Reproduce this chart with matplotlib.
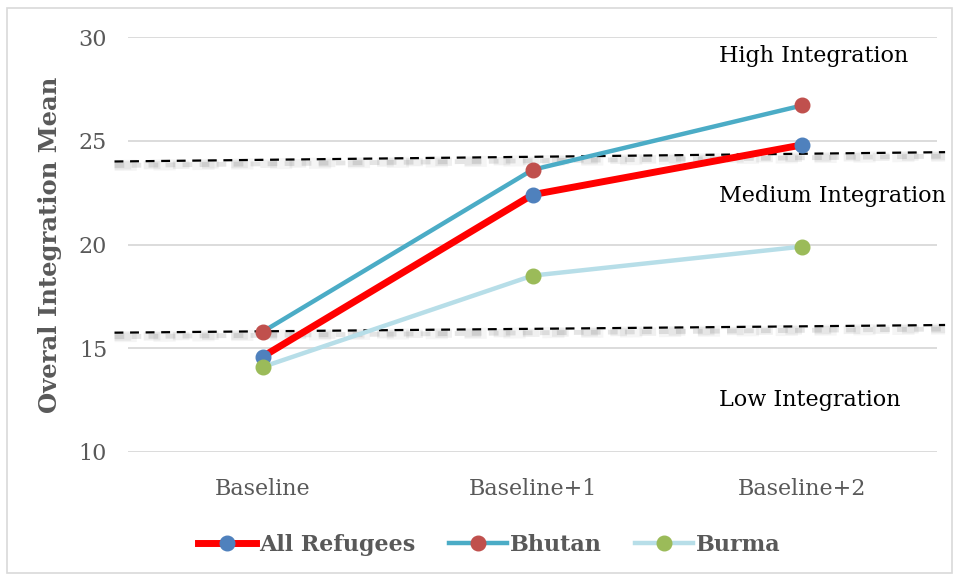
import matplotlib.pyplot as plt
import matplotlib.transforms as mtransforms
from matplotlib.patches import Rectangle

periods = ["Baseline", "Baseline+1", "Baseline+2"]
all_refugees = [14.6, 22.4, 24.8]
bhutan = [15.8, 23.6, 26.7]
burma = [14.1, 18.5, 19.9]

# cut-off lines between integration levels (start / end values)
high_cut = [24.0, 24.45]
low_cut = [15.75, 16.12]
cut_x = [-0.55, 2.53]

levels = ["High Integration", "Medium Integration", "Low Integration"]
level_y = [29.1, 22.35, 12.5]

serif = ["DejaVu Serif"]
grey_text = "#595959"

fig = plt.figure(figsize=(9.56, 5.78), dpi=100)
fig.patches.append(Rectangle((7 / 956, 5 / 578), 945 / 956, 565 / 578,
                             transform=fig.transFigure, fill=False,
                             edgecolor="#d9d9d9", linewidth=1.2))
ax = fig.add_axes([128 / 956, 1 - 452 / 578, 809 / 956, 415 / 578])

x = list(range(len(periods)))

# dashed cut-off lines with a soft shadow underneath
for cut in (high_cut, low_cut):
    for off, lw, a in [(-4, 8, 0.04), (-4, 6, 0.06), (-4, 3.5, 0.1)]:
        shift = mtransforms.ScaledTranslation(0, off / 100, fig.dpi_scale_trans)
        ax.plot(cut_x, cut, color="black", lw=lw, alpha=a, ls=(0, (2, 1.5)),
                transform=ax.transData + shift, clip_on=False, zorder=1,
                solid_capstyle="butt")
    ax.plot(cut_x, cut, color="black", lw=1.6, ls=(0, (4, 3)),
            clip_on=False, zorder=2)

ax.plot(x, all_refugees, color="#ff0000", lw=5, marker="o", ms=10.5,
        mfc="#4f81bd", mec="#4f81bd", label="All Refugees", zorder=3)
ax.plot(x, bhutan, color="#4bacc6", lw=3.2, marker="o", ms=10.5,
        mfc="#c0504d", mec="#c0504d", label="Bhutan", zorder=4)
ax.plot(x, burma, color="#b7dee8", lw=3.2, marker="o", ms=10.5,
        mfc="#9bbb59", mec="#9bbb59", label="Burma", zorder=5)

ax.set_xlim(-0.5, 2.5)
ax.set_ylim(10, 30)
ax.set_yticks([10, 15, 20, 25, 30])
ax.set_xticks(x)
ax.set_xticklabels(periods)
ax.grid(axis="y", color="#d9d9d9", lw=1.3)
ax.set_axisbelow(True)
for s in ax.spines.values():
    s.set_visible(False)
ax.tick_params(length=0, labelsize=16, labelcolor=grey_text, pad=15)
ax.tick_params(axis="x", pad=19)
for lab in ax.get_xticklabels() + ax.get_yticklabels():
    lab.set_family(serif)

ax.set_ylabel("Overal Integration Mean", family=serif, fontsize=17.5,
              fontweight="bold", color=grey_text, labelpad=12)

for txt, y in zip(levels, level_y):
    ax.text(1.69, y, txt, family=serif, fontsize=16, color="black",
            ha="left", va="center")

leg = ax.legend(loc="center", bbox_to_anchor=(0.447, -0.224), ncol=3,
                frameon=False, handlelength=2.6, columnspacing=1.5,
                handletextpad=0.15, prop={"family": serif, "size": 16,
                                          "weight": "bold"})
for t in leg.get_texts():
    t.set_color(grey_text)

fig.savefig("out.png", dpi=100)
